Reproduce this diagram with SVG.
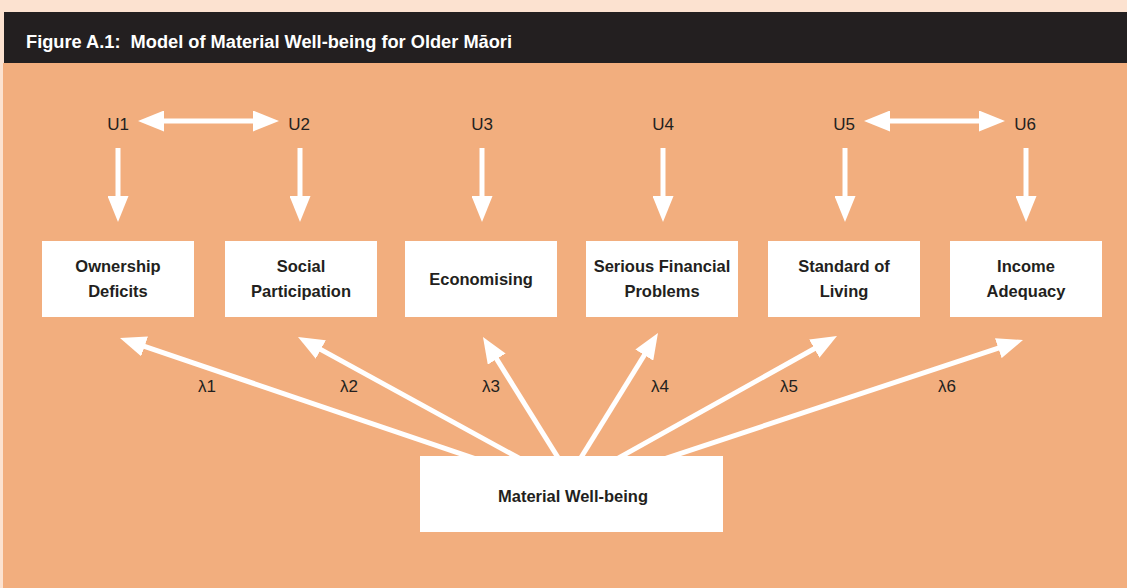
<svg xmlns="http://www.w3.org/2000/svg" width="1127" height="588" viewBox="0 0 1127 588">
  <style>
    .panel { fill: #F2AE7E; }
    .box { fill: #FFFFFF; }
    .label { font-family: "Liberation Sans", Arial, sans-serif; font-weight: bold; font-size: 16.5px; fill: #231F20; text-anchor: middle; }
    .var { font-family: "Liberation Sans", Arial, sans-serif; font-size: 17px; fill: #231F20; text-anchor: middle; }
    .conn { stroke: #FFFFFF; stroke-width: 5; fill: none; }
  </style>
  <defs>
    <marker id="head" markerUnits="userSpaceOnUse" markerWidth="26" markerHeight="21" refX="4" refY="10.5" orient="auto-start-reverse" viewBox="0 0 26 21">
      <path d="M0,0 L26,10.5 L0,21 Z" fill="#FFFFFF"/>
    </marker>
  </defs>

  <!-- page background, title bar and panel -->
  <rect x="0" y="0" width="1127" height="588" fill="#FCE2D0"/>
  <rect x="4" y="12" width="1123" height="51" fill="#231F20"/>
  <text x="26" y="48" xml:space="preserve" font-family="'Liberation Sans', Arial, sans-serif" font-weight="bold" font-size="18" fill="#FFFFFF" textLength="486" lengthAdjust="spacingAndGlyphs">Figure A.1:  Model of Material Well-being for Older Māori</text>
  <rect class="panel" x="3" y="63" width="1124" height="525"/>

  <!-- connectors -->
  <g id="connectors" class="conn">
    <!-- residual correlations -->
    <line x1="160" y1="121" x2="257" y2="121" marker-start="url(#head)" marker-end="url(#head)"/>
    <line x1="886" y1="121" x2="983" y2="121" marker-start="url(#head)" marker-end="url(#head)"/>
    <!-- residuals to indicators -->
    <line x1="118" y1="148" x2="118" y2="200" marker-end="url(#head)"/>
    <line x1="300" y1="148" x2="300" y2="200" marker-end="url(#head)"/>
    <line x1="482" y1="148" x2="482" y2="200" marker-end="url(#head)"/>
    <line x1="663" y1="148" x2="663" y2="200" marker-end="url(#head)"/>
    <line x1="845" y1="148" x2="845" y2="200" marker-end="url(#head)"/>
    <line x1="1026" y1="148" x2="1026" y2="200" marker-end="url(#head)"/>
    <!-- factor loadings -->
    <line x1="476.5" y1="459.2" x2="140.8" y2="345.1" marker-end="url(#head)"/>
    <line x1="523.8" y1="460.8" x2="317.3" y2="347.6" marker-end="url(#head)"/>
    <line x1="562.3" y1="464.5" x2="494.6" y2="355.7" marker-end="url(#head)"/>
    <line x1="576.7" y1="464.5" x2="646.4" y2="351.7" marker-end="url(#head)"/>
    <line x1="613.3" y1="460.9" x2="817.8" y2="346.7" marker-end="url(#head)"/>
    <line x1="663.5" y1="459.1" x2="1002.1" y2="346.9" marker-end="url(#head)"/>
  </g>

  <!-- loading labels -->
  <g id="loadings" class="var">
    <text x="207" y="392">λ1</text>
    <text x="349" y="392">λ2</text>
    <text x="491" y="392">λ3</text>
    <text x="660" y="392">λ4</text>
    <text x="789" y="392">λ5</text>
    <text x="947" y="392">λ6</text>
  </g>

  <!-- residual terms -->
  <g id="u1"><text class="var" x="118" y="130">U1</text></g>
  <g id="u2"><text class="var" x="299" y="130">U2</text></g>
  <g id="u3"><text class="var" x="482" y="130">U3</text></g>
  <g id="u4"><text class="var" x="663" y="130">U4</text></g>
  <g id="u5"><text class="var" x="844" y="130">U5</text></g>
  <g id="u6"><text class="var" x="1025" y="130">U6</text></g>

  <!-- indicator boxes -->
  <g id="ownership-deficits">
    <rect class="box" x="42" y="241" width="152" height="76"/>
    <text class="label" x="118" y="272">Ownership</text>
    <text class="label" x="118" y="297">Deficits</text>
  </g>
  <g id="social-participation">
    <rect class="box" x="225" y="241" width="152" height="76"/>
    <text class="label" x="301" y="272">Social</text>
    <text class="label" x="301" y="297">Participation</text>
  </g>
  <g id="economising">
    <rect class="box" x="405" y="241" width="152" height="76"/>
    <text class="label" x="481" y="285">Economising</text>
  </g>
  <g id="serious-financial-problems">
    <rect class="box" x="586" y="241" width="152" height="76"/>
    <text class="label" x="662" y="272">Serious Financial</text>
    <text class="label" x="662" y="297">Problems</text>
  </g>
  <g id="standard-of-living">
    <rect class="box" x="768" y="241" width="152" height="76"/>
    <text class="label" x="844" y="272">Standard of</text>
    <text class="label" x="844" y="297">Living</text>
  </g>
  <g id="income-adequacy">
    <rect class="box" x="950" y="241" width="152" height="76"/>
    <text class="label" x="1026" y="272">Income</text>
    <text class="label" x="1026" y="297">Adequacy</text>
  </g>

  <!-- latent factor -->
  <g id="material-well-being">
    <rect class="box" x="420" y="456" width="303" height="76"/>
    <text class="label" x="573" y="502" font-size="17.5">Material Well-being</text>
  </g>
</svg>
